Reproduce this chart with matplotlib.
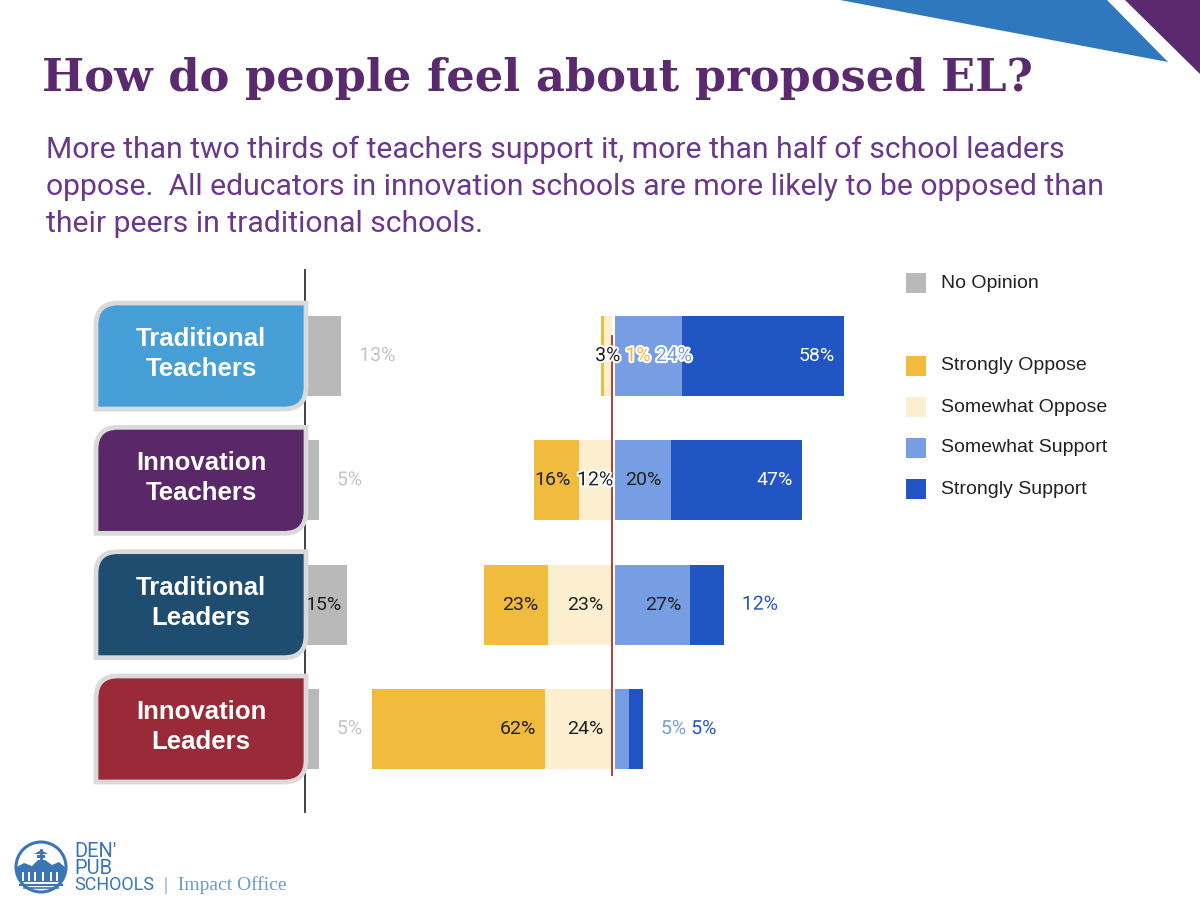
import numpy as np
import matplotlib
matplotlib.use("Agg")
import matplotlib.pyplot as plt
import matplotlib.patheffects as pe
from matplotlib.patches import Rectangle, Polygon, PathPatch, Circle
from matplotlib.path import Path
from matplotlib.transforms import IdentityTransform
from matplotlib.colors import to_rgb

# ---- data ----
groups = ["Traditional\nTeachers", "Innovation\nTeachers",
          "Traditional\nLeaders", "Innovation\nLeaders"]
group_colors = ["#479fd8", "#5a2868", "#1f4d6f", "#9b2a38"]

no_opinion = [13, 5, 15, 5]
strongly_oppose = [1, 16, 23, 62]
somewhat_oppose = [3, 12, 23, 24]
somewhat_support = [24, 20, 27, 5]
strongly_support = [58, 47, 12, 5]

legend_names = ["Strongly Oppose", "Somewhat Oppose", "Somewhat Support", "Strongly Support"]
colors = {"no": "#b9b9b9", "so": "#f1bc3d", "mo": "#fcefcf", "ms": "#779ee3", "ss": "#2255c4"}

title = "How do people feel about proposed EL?"
subtitle = ["More than two thirds of teachers support it, more than half of school leaders",
            "oppose.  All educators in innovation schools are more likely to be opposed than",
            "their peers in traditional schools."]

# ---- layout (pixels of the 1200x924 slide) ----
W, H = 1200, 924
fig = plt.figure(figsize=(W / 100, H / 100), dpi=100)
fig.patch.set_facecolor("white")


def fx(px):
    return px / W


def fy(py):
    return 1 - py / H


PX = 2.79          # pixels per percentage point
top, bottom = 270, 812
pitch = 124.3
zero_px = 612
ylim = (3 + (bottom - 729) / pitch, -(356 - top) / pitch)
bh = 80 / pitch
y = np.arange(len(groups))

ax = fig.add_axes([fx(zero_px - 100 * PX), fy(bottom), 200 * PX / W, (bottom - top) / H])
ax.set_xlim(-100, 100)
ax.set_ylim(*ylim)
ax.axis("off")

ax0 = fig.add_axes([fx(305), fy(bottom), 40 * PX / W, (bottom - top) / H])
ax0.set_xlim(0, 40)
ax0.set_ylim(*ylim)
ax0.patch.set_alpha(0)
for s in ["top", "right", "bottom"]:
    ax0.spines[s].set_visible(False)
ax0.spines["left"].set_color("#333333")
ax0.spines["left"].set_linewidth(1.3)
ax0.set_xticks([])
ax0.set_yticks([])

# ---- bars ----
GAP = 1.1
so = np.array(strongly_oppose)
mo = np.array(somewhat_oppose)
ms = np.array(somewhat_support)
ss = np.array(strongly_support)

ax0.barh(y, no_opinion, height=bh, color=colors["no"])
ax.barh(y, -mo, left=0, height=bh, color=colors["mo"])
ax.barh(y, -so, left=-mo, height=bh, color=colors["so"])
ax.barh(y, ms, left=GAP, height=bh, color=colors["ms"])
ax.barh(y, ss, left=GAP + ms, height=bh, color=colors["ss"])
ax.plot([0, 0], [-0.16, 3.37], color="#a8322d", lw=1.3, zorder=5)

# ---- value labels (Google-chart style placement) ----
fig.canvas.draw()
renderer = fig.canvas.get_renderer()
PAD, OUT_GAP, SEP = 9, 18, 5
halo = [pe.withStroke(linewidth=3, foreground="white")]


def lum(c):
    r, g, b = to_rgb(c)
    return 0.299 * r + 0.587 * g + 0.114 * b


def place_row(a, yi, segs, bar_end):
    placed = []
    yd = a.transData.transform((0, yi))[1]
    for x0, x1, v, col, side in segs:
        t = a.text(0, yi, f"{v}%", fontsize=14, family="Roboto", va="center", ha="left", zorder=6)
        w = t.get_window_extent(renderer).width
        p0 = a.transData.transform((min(x0, x1), yi))[0]
        p1 = a.transData.transform((max(x0, x1), yi))[0]
        if w + 3 <= p1 - p0:
            right = max(p1 - PAD, p0 + w)
            left, style = right - w, "in"
        elif side == "neg":
            left, style = (p0 + p1) / 2 - w / 2, "out"
        else:
            left, style = a.transData.transform((bar_end, yi))[0] + OUT_GAP, "out"
        for pl, pr in placed:
            if left < pr + SEP and left + w > pl - SEP:
                left, style = pr + SEP, "out"
        placed.append((left, left + w))
        t.set_x(a.transData.inverted().transform((left, yd))[0])
        if style == "in":
            t.set_color("white" if lum(col) < 0.45 else "#212121")
        else:
            t.set_color("#212121" if lum(col) > 0.9 else col)
            t.set_path_effects(halo)


for i in y:
    segs = [(-mo[i], 0, mo[i], colors["mo"], "neg"),
            (-mo[i] - so[i], -mo[i], so[i], colors["so"], "neg"),
            (GAP, GAP + ms[i], ms[i], colors["ms"], "pos"),
            (GAP + ms[i], GAP + ms[i] + ss[i], ss[i], colors["ss"], "pos")]
    place_row(ax, i, segs, GAP + ms[i] + ss[i])
    place_row(ax0, i, [(0, no_opinion[i], no_opinion[i], "#c4c4c4", "pos")], no_opinion[i])

# ---- category boxes ----
def leaf_path(x0, x1, y0, y1, r):
    verts = [(x0, y0), (x1 - r, y0), (x1, y0), (x1, y0 + r), (x1, y1),
             (x0 + r, y1), (x0, y1), (x0, y1 - r), (x0, y0)]
    codes = [Path.MOVETO, Path.LINETO, Path.CURVE3, Path.CURVE3, Path.LINETO,
             Path.LINETO, Path.CURVE3, Path.CURVE3, Path.CLOSEPOLY]
    return Path(verts, codes)


for i, (name, col) in enumerate(zip(groups, group_colors)):
    yc = ax.transData.transform((0, i))[1]
    fig.add_artist(PathPatch(leaf_path(96, 306, yc - 53, yc + 53, 22), facecolor=col,
                             edgecolor="#dadada", lw=3.4, transform=IdentityTransform(), zorder=3))
    fig.text(fx(201), yc / H + 2 / H, name, ha="center", va="center", color="white", fontsize=18.5,
             fontweight="bold", family="Liberation Sans", linespacing=1.3, zorder=4)

# ---- legend ----
leg_items = [("No Opinion", colors["no"], 283)] + \
    [(n, colors[k], 366 + 41 * j) for j, (n, k) in enumerate(zip(legend_names, ["so", "mo", "ms", "ss"]))]
for name, col, ly in leg_items:
    fig.add_artist(Rectangle((fx(906), fy(ly + 10)), 20 / W, 20 / H, transform=fig.transFigure,
                             facecolor=col, edgecolor="none"))
    fig.text(fx(941), fy(ly), name, va="center", ha="left", fontsize=14,
             family="Liberation Sans", color="#222222")

# ---- title and subtitle ----
tt = fig.text(fx(42), fy(91), title, va="baseline", ha="left", color="#5b2a6e",
              family="DejaVu Serif", fontweight="bold", fontsize=40)
w = tt.get_window_extent(fig.canvas.get_renderer()).width
tt.set_fontsize(40 * 990 / w)
for k, line in enumerate(subtitle):
    fig.text(fx(46), fy(158 + 37 * k), line, va="baseline", ha="left", color="#6a378a",
             family="Roboto", fontsize=21.7)

# ---- decorative corner ----
fig.add_artist(Polygon([(fx(840), fy(0)), (fx(1107), fy(0)), (fx(1168), fy(62))],
                       closed=True, transform=fig.transFigure, facecolor="#2f78bd", edgecolor="none"))
fig.add_artist(Polygon([(fx(1125), fy(0)), (fx(1200), fy(0)), (fx(1200), fy(74))],
                       closed=True, transform=fig.transFigure, facecolor="#5b2a6e", edgecolor="none"))

# ---- logo ----
blue = "#3a76b6"
axl = fig.add_axes([fx(12), fy(896), 58 / W, 58 / H])
axl.set_xlim(0, 58)
axl.set_ylim(0, 58)
axl.axis("off")
axl.add_patch(Circle((29, 29), 25, fill=False, ec=blue, lw=2.2))
sky = Polygon([(3, 14), (3, 28), (12, 33), (20, 30), (26, 36), (33, 36), (40, 31), (47, 34),
               (55, 27), (55, 14)], closed=True, facecolor=blue, edgecolor="none")
axl.add_patch(sky)
sky.set_clip_path(Circle((29, 29), 24, transform=axl.transData))
for bx in [10, 16, 22, 30, 38, 44]:
    axl.add_patch(Rectangle((bx, 15), 2, 9, facecolor="white", edgecolor="none"))
axl.plot([8, 50], [11, 11], color=blue, lw=1.5)
axl.plot([12, 46], [8, 8], color=blue, lw=1.2)
axl.plot([29, 29], [36, 46], color=blue, lw=2)
axl.add_patch(Polygon([(22, 42), (36, 42), (29, 46)], closed=True, facecolor=blue, edgecolor="none"))
axl.add_patch(Rectangle((25, 38), 8, 3, facecolor=blue, edgecolor="none"))

fig.text(fx(74), fy(857), "DEN'", fontsize=14.5, family="Roboto", color=blue, va="baseline")
fig.text(fx(74), fy(874), "PUB", fontsize=14.5, family="Roboto", color=blue, va="baseline")
fig.text(fx(74), fy(890), "SCHOOLS", fontsize=13, family="Roboto", color=blue, va="baseline")
fig.text(fx(164), fy(890), "|  Impact Office", fontsize=14, family="Liberation Serif",
         color="#6d9ccb", va="baseline")

fig.savefig("out.png", dpi=100, facecolor="white")
